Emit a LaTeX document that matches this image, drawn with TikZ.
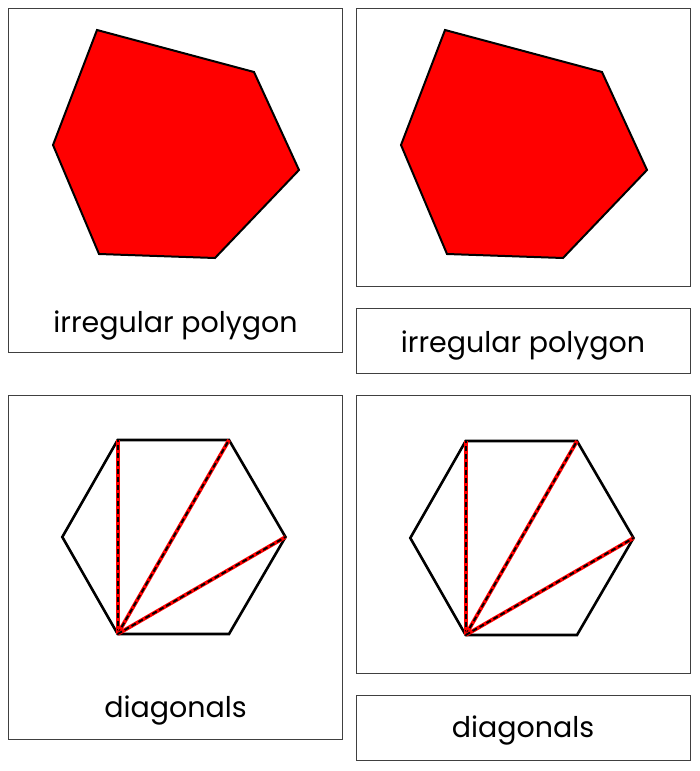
\documentclass[tikz,border=0pt]{standalone}
\usepackage{fontspec}
\setmainfont{Poppins}
\begin{document}
\begin{tikzpicture}[x=1pt,y=-1pt,
  card/.style={draw=black!75,line width=1.1pt},
  poly/.style={draw=black,fill=red,line width=2pt,line join=miter},
  hexa/.style={draw=black,line width=2.6pt,line join=miter},
  diagred/.style={draw=red,line width=3.8pt},
  diagdash/.style={draw=black,line width=1.9pt,dash pattern=on 5pt off 3pt},
  lbl/.style={anchor=base,inner sep=0pt,font=\fontsize{28.5}{34}\selectfont}]
\useasboundingbox (0,0) rectangle (700,771);
\fill[white] (0,0) rectangle (700,771);
% cards
\draw[card] (8.5,8.5) rectangle (342.5,352.5);
\draw[card] (356.5,8.5) rectangle (690.5,286.5);
\draw[card] (356.5,308.5) rectangle (690.5,373.5);
\draw[card] (8.5,395.5) rectangle (342.5,739.5);
\draw[card] (356.5,395.5) rectangle (690.5,673.5);
\draw[card] (356.5,695.5) rectangle (690.5,760.5);
% irregular polygons
\foreach \dx in {0,348}{
  \draw[poly,xshift=\dx] (97,30) -- (254,72) -- (299,170) -- (215,258) -- (99,254) -- (53,145) -- cycle;
}
% hexagons
\foreach \dx/\dy in {0/0,348/-1}{
\begin{scope}[xshift=\dx,yshift=\dy]
  \coordinate (tl) at (117.7,440);
  \coordinate (tr) at (229,440);
  \coordinate (r) at (285.5,537);
  \coordinate (br) at (229,634);
  \coordinate (bl) at (117.7,634);
  \coordinate (l) at (62.3,537);
  \draw[hexa] (tl) -- (tr) -- (r) -- (br) -- (bl) -- (l) -- cycle;
  \foreach \t in {tl,tr,r}{
    \draw[diagred] (bl) -- (\t);
    \draw[diagdash] (bl) -- (\t);
  }
\end{scope}
}
% labels
\node[lbl] (t1) at (175.5,332) {irregular polygon};
\node[lbl] (t2) at (523,352) {irregular polygon};
\node[lbl] (t3) at (175.5,717) {diagonals};
\node[lbl] (t4) at (523,737) {diagonals};
\end{tikzpicture}
\end{document}
